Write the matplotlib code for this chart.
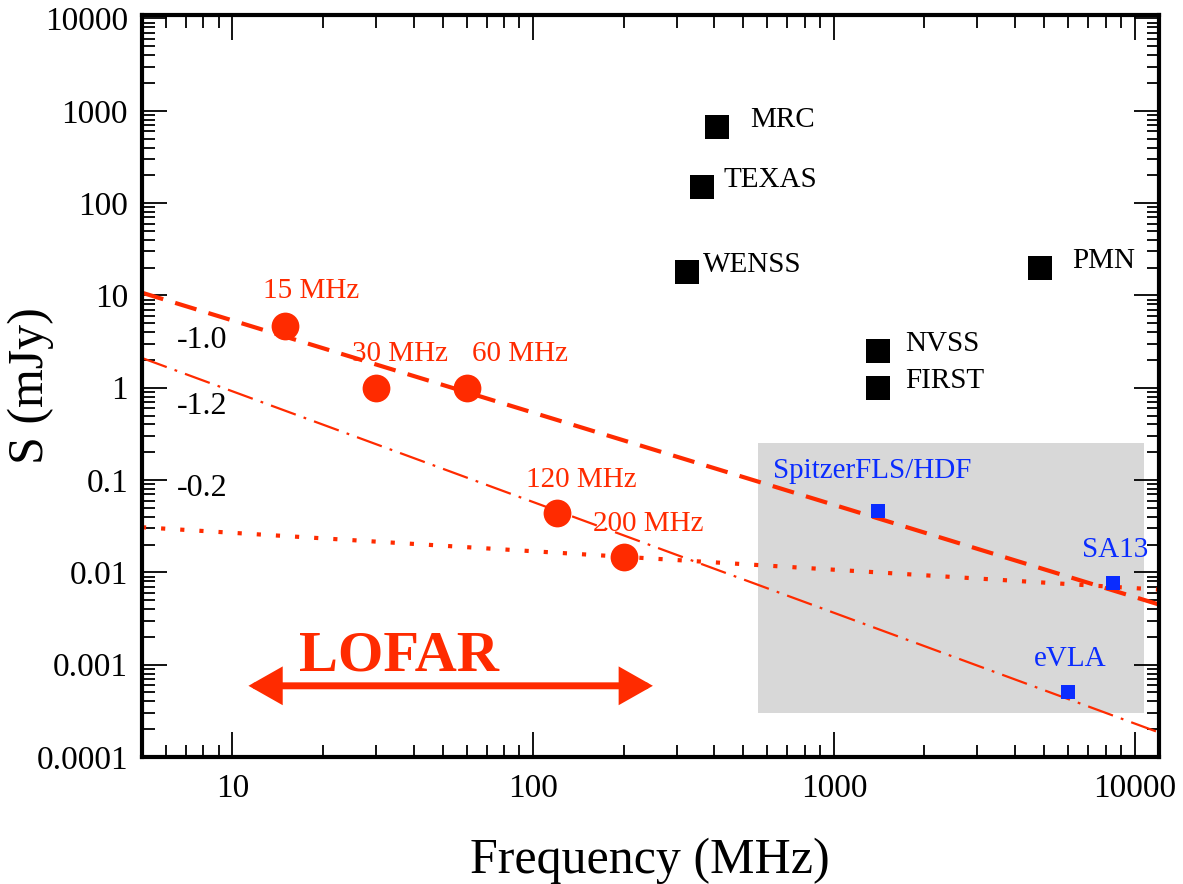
import matplotlib
matplotlib.use("Agg")
import matplotlib.pyplot as plt
from matplotlib.patches import Rectangle

plt.rcParams['font.family'] = ['Liberation Serif', 'DejaVu Serif']
plt.rcParams['lines.scale_dashes'] = False
plt.rcParams['hatch.linewidth'] = 0.0

RED = '#ff2b00'
BLUE = '#0a2cff'

# LOFAR points
lofar_freq = [15, 30, 60, 120, 200]
lofar_flux = [4.66, 1.0, 1.0, 0.044, 0.0147]
lofar_labels = ['15 MHz', '30 MHz', '60 MHz', '120 MHz', '200 MHz']

# existing surveys (black)
survey_names = ['MRC', 'TEXAS', 'WENSS', 'PMN', 'NVSS', 'FIRST']
survey_freq = [408, 365, 325, 4850, 1400, 1400]
survey_flux = [670, 150, 18.0, 20.0, 2.5, 1.0]

# deep fields (blue)
deep_names = ['SpitzerFLS/HDF', 'SA13', 'eVLA']
deep_freq = [1400, 8440, 6000]
deep_flux = [0.046, 0.0076, 0.0005]

# spectral index lines (endpoints)
line_freq = [5, 12000]
line_m10 = [10.7, 0.0045]
line_m12 = [2.10, 1.85e-4]
line_m02 = [0.0308, 0.0065]
slope_labels = ['-1.0', '-1.2', '-0.2']
slope_label_y = [2.72, 0.518, 0.0679]

# shaded region
shade_freq = [560, 10700]
shade_flux = [3.0e-4, 0.25]

# LOFAR band arrow
lofar_band = [11.3, 250]
lofar_arrow_y = 5.9e-4

fig = plt.figure(figsize=(11.83, 8.84), dpi=100)
ax = fig.add_axes([0.12, 0.1437, 0.8593, 0.8393])
ax.set_xscale('log')
ax.set_yscale('log')
ax.set_xlim(5, 12000)
ax.set_ylim(1e-4, 1.09e4)

ax.add_patch(Rectangle((shade_freq[0], shade_flux[0]),
                       shade_freq[1] - shade_freq[0], shade_flux[1] - shade_flux[0],
                       facecolor='#d8d8d8', edgecolor='none', zorder=0))

ax.plot(line_freq, line_m10, color=RED, lw=3, dashes=(16, 9), zorder=2)
ax.plot(line_freq, line_m12, color=RED, lw=1.6, dashes=(19, 6, 2, 6), zorder=2)
ax.plot(line_freq, line_m02, color=RED, lw=3, dashes=(3, 10.8),
        dash_capstyle='butt', zorder=2)

ax.plot(lofar_freq, lofar_flux, 'o', color=RED, ms=20, mew=0, zorder=3)
ax.plot(survey_freq, survey_flux, 's', color='black', ms=17, mew=0, zorder=3)
ax.plot(deep_freq, deep_flux, 's', color=BLUE, ms=9.6, mew=0, zorder=4)

fs = 21
red_off = [(-16, 20), (-17, 19), (4, 19), (-22, 19), (-22, 19)]
for f, s, lab, off in zip(lofar_freq, lofar_flux, lofar_labels, red_off):
    ax.annotate(lab, (f, s), xytext=off, textcoords='offset points',
                color=RED, fontsize=fs, ha='left', va='baseline', zorder=5)

blk_off = [(24, 0), (15, 0), (11.5, 0), (23, 0), (19.5, 0), (19.5, 0)]
for f, s, lab, off in zip(survey_freq, survey_flux, survey_names, blk_off):
    ax.annotate(lab, (f, s), xytext=off, textcoords='offset points',
                color='black', fontsize=fs, ha='left', va='baseline', zorder=5)

blue_off = [(-75.5, 24), (-22, 19), (-24.5, 19)]
for f, s, lab, off in zip(deep_freq, deep_flux, deep_names, blue_off):
    ax.annotate(lab, (f, s), xytext=off, textcoords='offset points',
                color=BLUE, fontsize=fs, ha='left', va='baseline', zorder=5)

for lab, yv in zip(slope_labels, slope_label_y):
    ax.text(6.53, yv, lab, fontsize=23, color='black', ha='left', va='baseline')

ax.text(35.9, 8.67e-4, 'LOFAR', color=RED, fontsize=42, fontweight='bold',
        ha='center', va='baseline')
ax.annotate('', xy=(lofar_band[0], lofar_arrow_y), xytext=(lofar_band[1], lofar_arrow_y),
            arrowprops=dict(arrowstyle='<|-|>,head_length=0.3,head_width=0.17',
                            mutation_scale=57, color=RED, lw=5,
                            shrinkA=0, shrinkB=0, joinstyle='miter'))

ax.set_xlabel('Frequency (MHz)', fontsize=36, labelpad=24)
ax.set_ylabel('S (mJy)', fontsize=36)
ax.yaxis.set_label_coords(-0.087, 0.5)

ax.set_xticks([10, 100, 1000, 10000])
ax.set_xticklabels(['10', '100', '1000', '10000'])
ax.set_yticks([1e-4, 1e-3, 1e-2, 0.1, 1, 10, 100, 1000, 10000])
ax.set_yticklabels(['0.0001', '0.001', '0.01', '0.1', '1', '10', '100', '1000', '10000'])

ax.tick_params(which='both', direction='in', top=True, right=True, labelsize=24)
ax.tick_params(which='major', length=18, width=1.3)
ax.tick_params(axis='x', which='major', pad=12)
ax.tick_params(axis='y', which='major', pad=10)
ax.tick_params(which='minor', length=9, width=1.3)
for sp in ax.spines.values():
    sp.set_linewidth(3)

fig.savefig('out.png', dpi=100)
